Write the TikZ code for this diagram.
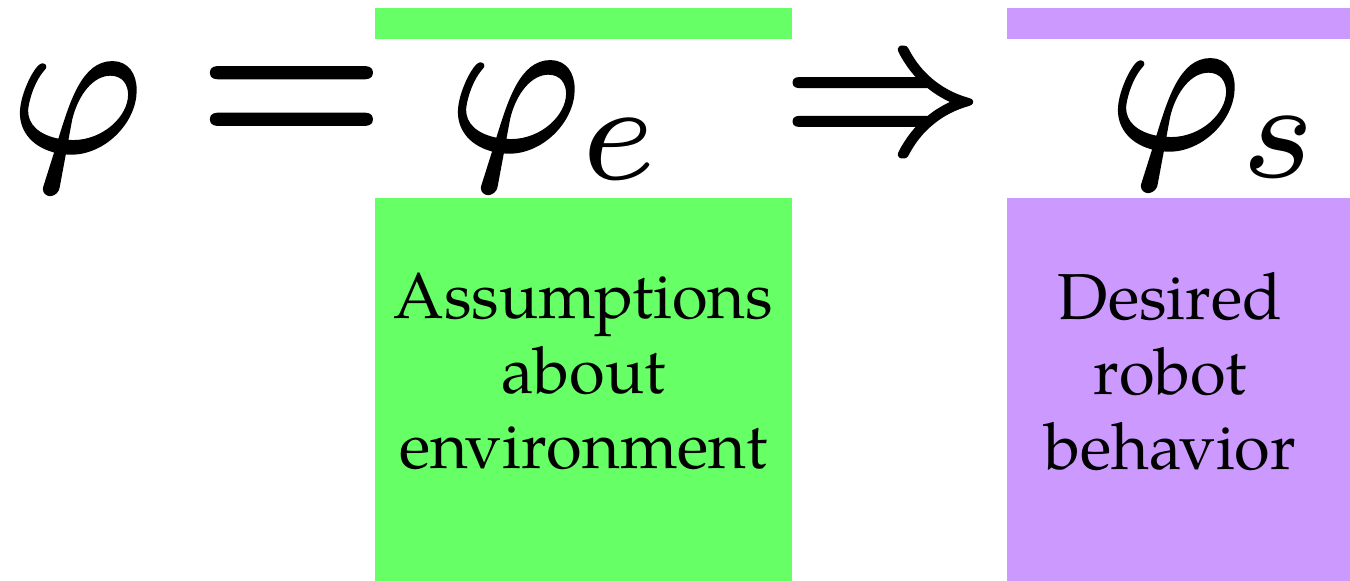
\documentclass[tikz,border=0pt]{standalone}
\usepackage[no-math]{fontspec}
\setmainfont{TeX Gyre Pagella}
\usepackage{amsmath}
\usepackage{xcolor}
\usepackage{tikz}
\usetikzlibrary{positioning}
\definecolor{envgreen}{HTML}{66FF66}
\definecolor{syspurple}{HTML}{CC99FF}
% big formula glyphs, filled and stroked a little for weight
\newcommand{\bigmath}[2][10]{\scalebox{#1}{\special{pdf:literal direct 2 Tr 0.15 w 1 j}$#2$\special{pdf:literal direct 0 Tr}}}
\newcommand{\plainink}{\special{pdf:literal direct 0 Tr}}

\begin{document}
\begin{tikzpicture}[
  x=0.5pt, y=-0.5pt,
  bar/.style={inner sep=0pt, minimum height=15.5pt},
  box/.style={inner sep=0pt, minimum height=192pt},
  sym/.style={inner sep=0pt, font=\normalsize},
  lbl/.style={inner sep=0pt, align=center, font=\fontsize{32.5}{37.5}\selectfont},
]
\useasboundingbox (0,0) rectangle (1350,581);
% coloured bars over the two parts of the formula
\node[bar, fill=envgreen, minimum width=208.5pt] (envbar) at (583.5,23.5) {};
\node[bar, fill=syspurple, minimum width=171.5pt] (sysbar) at (1178.5,23.5) {};
% formula
\node[sym, anchor=base west] (phi) at (11,151) {\bigmath{\varphi}};
\node[sym, anchor=base] (eq) at (291.5,156) {\bigmath[12]{=}};
\node[sym, anchor=base west] (phie) at (449,150) {\bigmath{\varphi_{\plainink e}}};
\node[sym, anchor=base] (impl) at (883,152) {\bigmath{\Rightarrow}};
\node[sym, anchor=base west] (phis) at (1109,148) {\bigmath{\varphi_{\plainink s}}};
% boxes with their meaning
\node[box, fill=envgreen, minimum width=208.5pt, below=79pt of envbar] (envbox) {};
\node[box, fill=syspurple, minimum width=171.5pt, below=79pt of sysbar] (sysbox) {};
\node[lbl] (envtxt) at ([yshift=9pt]envbox.center) {Assumptions\\about\\environment};
\node[lbl] (systxt) at ([xshift=-4.25pt, yshift=9pt]sysbox.center) {Desired\\robot\\behavior};
\end{tikzpicture}
\end{document}
